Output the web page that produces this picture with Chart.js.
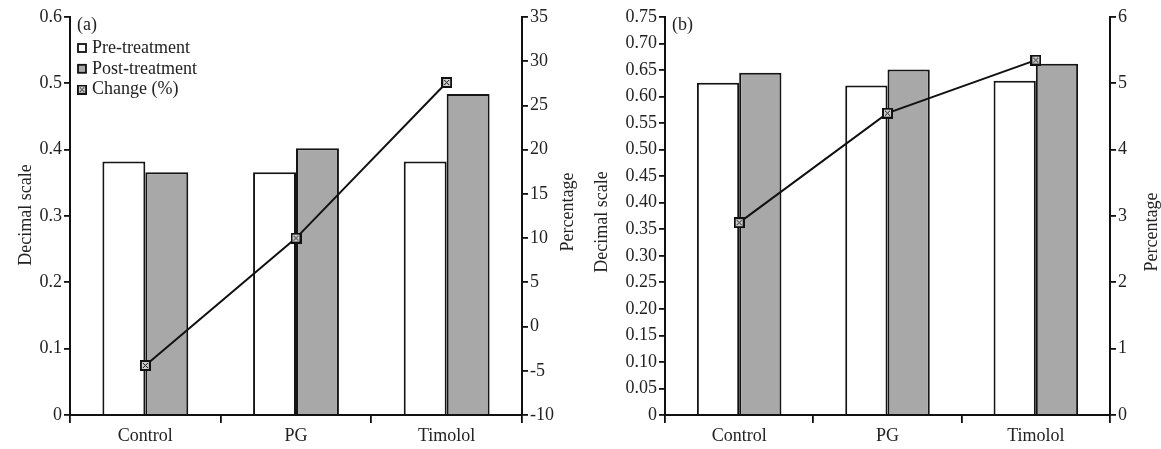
<!DOCTYPE html>
<html lang="en">
<head>
    <meta charset="UTF-8">
    <title>Pre/Post treatment comparison</title>
    <style>
        body {
            margin: 0;
            background-color: #ffffff;
            width: 1161px;
            height: 449px;
            overflow: hidden;
        }

        .panel {
            position: absolute;
            top: 0;
            height: 449px;
        }

        #panelA { left: 0; width: 580px; }
        #panelB { left: 580px; width: 581px; }
    </style>
</head>
<body>

<div class="panel" id="panelA"><canvas id="chartA" width="580" height="449"></canvas></div>
<div class="panel" id="panelB"><canvas id="chartB" width="581" height="449"></canvas></div>

<script src="https://cdn.jsdelivr.net/npm/chart.js"></script>
<script>
    // Categories shared by both panels
    const categories = ['Control', 'PG', 'Timolol'];

    // Panel (a) values
    const preA = [0.382, 0.366, 0.382];
    const postA = [0.366, 0.402, 0.484];
    const changeA = [-4.4, 10.0, 27.6];

    // Panel (b) values
    const preB = [0.626, 0.621, 0.630];
    const postB = [0.645, 0.651, 0.662];
    const changeB = [2.9, 4.55, 5.35];

    const seriesNames = ['Pre-treatment', 'Post-treatment', 'Change (%)'];

    const FONT = "'Liberation Serif', 'Times New Roman', serif";
    const INK = '#222';

    // boxed-x marker used for the change line
    function makeMarker(size) {
        const c = document.createElement('canvas');
        c.width = size;
        c.height = size;
        const g = c.getContext('2d');
        g.fillStyle = '#111';
        g.fillRect(0, 0, size, size);
        g.fillStyle = '#cfcfcf';
        g.fillRect(2, 2, size - 4, size - 4);
        g.strokeStyle = '#111';
        g.lineWidth = 1;
        g.beginPath();
        g.moveTo(3, 3); g.lineTo(size - 3, size - 3);
        g.moveTo(size - 3, 3); g.lineTo(3, size - 3);
        g.stroke();
        return c;
    }
    const marker = makeMarker(11);

    function axisTitles(leftX, rightX, leftY, rightY) {
        return {
            id: 'axisTitles',
            afterDraw(chart) {
                const ctx = chart.ctx;
                ctx.save();
                ctx.font = '18px ' + FONT;
                ctx.fillStyle = INK;
                ctx.textAlign = 'center';
                ctx.textBaseline = 'middle';
                [[leftX, leftY, 'Decimal scale'], [rightX, rightY, 'Percentage']].forEach(([x, y, t]) => {
                    ctx.save();
                    ctx.translate(x, y);
                    ctx.rotate(-Math.PI / 2);
                    ctx.fillText(t, 0, 0);
                    ctx.restore();
                });
                ctx.restore();
            }
        };
    }

    function panelLabel(text, withLegend) {
        return {
            id: 'panelLabel',
            afterDraw(chart) {
                const ctx = chart.ctx;
                const x0 = chart.chartArea.left + 7;
                ctx.save();
                ctx.font = '18px ' + FONT;
                ctx.fillStyle = INK;
                ctx.textBaseline = 'middle';
                ctx.fillText(text, x0, 25);
                if (withLegend) {
                    const fills = ['#ffffff', '#a8a8a8'];
                    seriesNames.forEach((name, i) => {
                        const y = 48 + i * 20.8;
                        if (i < 2) {
                            ctx.fillStyle = fills[i];
                            ctx.fillRect(x0 + 1, y - 4, 8, 8);
                            ctx.strokeStyle = '#111';
                            ctx.lineWidth = 1.8;
                            ctx.strokeRect(x0 + 1, y - 4, 8, 8);
                        } else {
                            ctx.drawImage(marker, x0, y - 5, 10, 10);
                        }
                        ctx.fillStyle = INK;
                        ctx.fillText(name, x0 + 15, y);
                    });
                }
                ctx.restore();
            }
        };
    }

    function buildChart(id, opts) {
        const tickFont = { family: FONT, size: 18 };
        const axisGrid = {
            display: true,
            drawOnChartArea: false,
            drawTicks: true,
            tickLength: 6,
            color: '#111',
            lineWidth: 1.8
        };
        return new Chart(document.getElementById(id), {
            data: {
                labels: categories,
                datasets: [
                    {
                        type: 'line',
                        label: seriesNames[2],
                        data: opts.change,
                        yAxisID: 'y1',
                        borderColor: '#111',
                        borderWidth: 2,
                        pointStyle: marker,
                        pointRadius: 5.5,
                        tension: 0,
                        order: 0
                    },
                    {
                        type: 'bar',
                        label: seriesNames[0],
                        data: opts.pre,
                        yAxisID: 'y',
                        backgroundColor: '#ffffff',
                        borderColor: '#151515',
                        borderWidth: 2,
                        categoryPercentage: 0.57,
                        barPercentage: 1.0,
                        order: 1
                    },
                    {
                        type: 'bar',
                        label: seriesNames[1],
                        data: opts.post,
                        yAxisID: 'y',
                        backgroundColor: '#a8a8a8',
                        borderColor: '#151515',
                        borderWidth: 2,
                        categoryPercentage: 0.57,
                        barPercentage: 1.0,
                        order: 1
                    }
                ]
            },
            options: {
                responsive: false,
                animation: false,
                layout: { padding: { top: 17, left: 0, right: 0, bottom: 0 } },
                plugins: {
                    legend: { display: false },
                    tooltip: { enabled: false }
                },
                scales: {
                    x: {
                        offset: true,
                        grid: Object.assign({}, axisGrid, { offset: true, tickLength: 8 }),
                        border: { display: true, color: '#111', width: 2 },
                        ticks: { font: tickFont, color: INK, padding: 2 },
                        afterFit(s) { s.height = 34; }
                    },
                    y: {
                        position: 'left',
                        min: opts.leftMin,
                        max: opts.leftMax,
                        grid: axisGrid,
                        border: { display: true, color: '#111', width: 2 },
                        ticks: {
                            stepSize: opts.leftStep,
                            font: tickFont,
                            color: INK,
                            padding: 2,
                            callback: v => v === 0 ? '0' : v.toFixed(opts.leftDigits)
                        },
                        afterFit(s) { s.width = opts.leftWidth; }
                    },
                    y1: {
                        position: 'right',
                        min: opts.rightMin,
                        max: opts.rightMax,
                        grid: axisGrid,
                        border: { display: true, color: '#111', width: 2 },
                        ticks: {
                            stepSize: opts.rightStep,
                            font: tickFont,
                            color: INK,
                            padding: 2
                        },
                        afterFit(s) { s.width = opts.rightWidth; }
                    }
                }
            },
            plugins: [axisTitles(opts.titleLeftX, opts.titleRightX, opts.titleLeftY, opts.titleRightY),
                      panelLabel(opts.label, opts.legend)]
        });
    }

    buildChart('chartA', {
        pre: preA, post: postA, change: changeA,
        leftMin: 0, leftMax: 0.6, leftStep: 0.1, leftDigits: 1,
        rightMin: -10, rightMax: 35, rightStep: 5,
        leftWidth: 70, rightWidth: 58,
        titleLeftX: 26, titleLeftY: 215, titleRightX: 568, titleRightY: 212,
        label: '(a)', legend: true
    });

    buildChart('chartB', {
        pre: preB, post: postB, change: changeB,
        leftMin: 0, leftMax: 0.75, leftStep: 0.05, leftDigits: 2,
        rightMin: 0, rightMax: 6, rightStep: 1,
        leftWidth: 85, rightWidth: 51,
        titleLeftX: 22, titleLeftY: 222, titleRightX: 572, titleRightY: 232,
        label: '(b)', legend: false
    });
</script>

</body>
</html>
